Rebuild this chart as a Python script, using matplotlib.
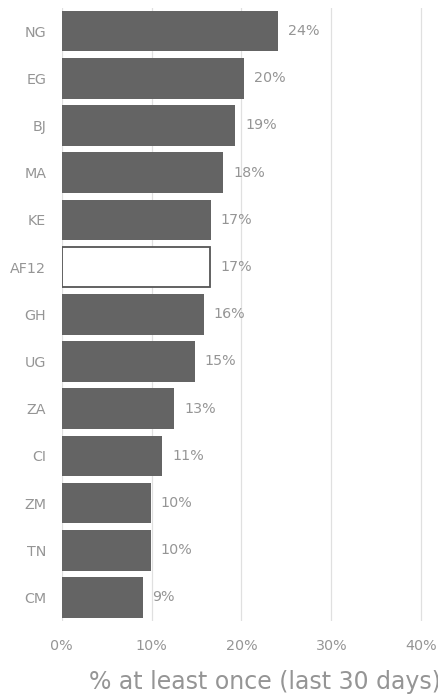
import matplotlib
matplotlib.use("Agg")
import matplotlib.pyplot as plt
from matplotlib.ticker import FuncFormatter

categories = ["NG", "EG", "BJ", "MA", "KE", "AF12", "GH", "UG", "ZA", "CI", "ZM", "TN", "CM"]
values = [24.1, 20.3, 19.3, 18.0, 16.6, 16.5, 15.8, 14.8, 12.5, 11.2, 9.9, 9.9, 9.0]
labels = ["24%", "20%", "19%", "18%", "17%", "17%", "16%", "15%", "13%", "11%", "10%", "10%", "9%"]
highlight = "AF12"
xticks = [0, 10, 20, 30, 40]
xlabel = "% at least once (last 30 days)"

W, H = 438, 697
fig = plt.figure(figsize=(W / 100, H / 100), dpi=100)
x0 = 61.5
px_per = 9.0
xmax = 45
right_px = x0 + xmax * px_per
ax = fig.add_axes([x0 / W, 1 - 621 / H, (right_px - x0) / W, (621 - 7.5) / H])

text_col = "#959595"
bar_col = "#646464"
ypos = list(range(len(categories)))
for y, c, v in zip(ypos, categories, values):
    if c == highlight:
        ax.barh(y, v, height=0.86, color="white", edgecolor="#555555", linewidth=1.3, zorder=3)
    else:
        ax.barh(y, v, height=0.86, color=bar_col, edgecolor="none", zorder=3)
for y, v, l in zip(ypos, values, labels):
    ax.annotate(l, (v, y), xytext=(10, 0), textcoords="offset pixels",
                ha="left", va="center", fontsize=10.3, color=text_col)

ax.set_xlim(0, xmax)
ax.set_ylim(len(categories) - 0.5, -0.5)
ax.set_yticks(ypos)
ax.set_yticklabels(categories)
ax.set_xticks(xticks)
ax.xaxis.set_major_formatter(FuncFormatter(lambda v, p: f"{v:.0f}%"))
ax.tick_params(axis="both", length=0, labelsize=10.3, labelcolor=text_col)
ax.tick_params(axis="y", pad=11)
ax.tick_params(axis="x", pad=13)
ax.grid(axis="x", color="#e0e0e0", linewidth=0.9, zorder=0)
ax.set_axisbelow(True)
for s in ax.spines.values():
    s.set_visible(False)

fig.text(89 / W, 1 - 682 / H, xlabel, ha="left", va="center", fontsize=17, color=text_col)

fig.savefig("out.png", dpi=100)
